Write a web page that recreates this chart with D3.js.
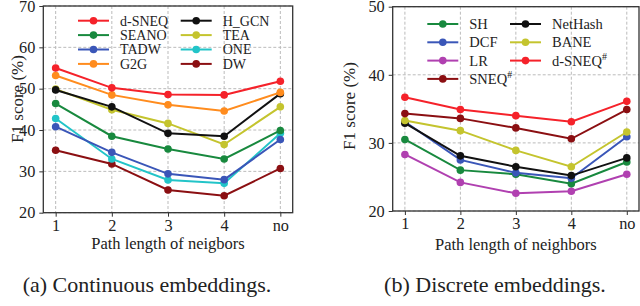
<!DOCTYPE html>
<html><head><meta charset="utf-8">
<script src="https://cdn.jsdelivr.net/npm/d3@7"></script>
<style>body{margin:0;background:#fff}svg{display:block}text{font-family:"Times New Roman","Liberation Serif",Times,"DejaVu Serif",serif;fill:#222}</style>
</head><body>
<svg id="c" width="640" height="306"></svg>
<script>
const categories = ["1","2","3","4","no"];

// Panel (a): continuous embeddings
const contNames = ["d-SNEQ","SEANO","TADW","G2G","H_GCN","TEA","ONE","DW"];
const contColors = ["#f5222a","#18893e","#3a56b8","#ff8c1e","#111111","#c4c42e","#22c4c8","#8b0f12"];
const dSNEQ  = [55.0, 50.2, 48.6, 48.5, 51.8];
const SEANO  = [46.4, 38.5, 35.4, 33.0, 39.9];
const TADW   = [40.8, 34.6, 29.4, 28.0, 37.7];
const G2G    = [53.2, 48.5, 46.1, 44.6, 49.1];
const H_GCN  = [49.7, 45.6, 39.2, 38.5, 48.8];
const TEA    = [49.9, 44.9, 41.6, 36.5, 45.6];
const ONE    = [42.8, 33.0, 27.9, 27.1, 39.2];
const DW     = [35.1, 31.8, 25.5, 24.1, 30.7];
const contTicks = [20,30,40,50,60,70];

// Panel (b): discrete embeddings
const discNames = ["SH","DCF","LR","SNEQ#","NetHash","BANE","d-SNEQ#"];
const discColors = ["#18893e","#3a56b8","#b040b0","#8b0f12","#111111","#c4c42e","#f5222a"];
const SH      = [30.5, 26.0, 25.4, 24.0, 27.2];
const DCF     = [33.1, 27.5, 25.6, 24.8, 30.9];
const LR      = [28.3, 24.2, 22.6, 22.9, 25.4];
const SNEQh   = [34.3, 33.6, 32.2, 30.6, 34.9];
const NetHash = [32.9, 28.1, 26.5, 25.2, 27.8];
const BANE    = [33.3, 31.8, 28.9, 26.5, 31.6];
const dSNEQh  = [36.7, 34.9, 34.0, 33.1, 36.1];
const discTicks = [20,30,40,50];

const FONT = '"Times New Roman","Liberation Serif",Times,"DejaVu Serif",serif';
const svg = d3.select("#c");

function panel(cfg){
  const {left,right,top,bottom,domain,ticks,series,names,colors,order,xlabel,xlabY,caption,capX,legend,ylabX,ylabY} = cfg;
  const g = svg.append("g");
  const x = d3.scalePoint().domain(categories).range([left,right]).padding(0.22);
  const y = d3.scaleLinear().domain(domain).range([bottom,top]);
  // grid
  g.append("g").selectAll("line.h").data(ticks).join("line")
    .attr("x1",left).attr("x2",right).attr("y1",d=>y(d)).attr("y2",d=>y(d))
    .attr("stroke","#bbb").attr("stroke-width",1).attr("stroke-dasharray","3,2");
  g.append("g").selectAll("line.v").data(categories).join("line")
    .attr("x1",d=>x(d)).attr("x2",d=>x(d)).attr("y1",top).attr("y2",bottom)
    .attr("stroke","#bbb").attr("stroke-width",1).attr("stroke-dasharray","3,2");
  // axes
  const ax = g.append("g").attr("transform",`translate(0,${bottom})`)
    .call(d3.axisBottom(x).tickSize(4).tickPadding(2.5));
  const ay = g.append("g").attr("transform",`translate(${left},0)`)
    .call(d3.axisLeft(y).tickValues(ticks).tickSize(4).tickPadding(4));
  [ax,ay].forEach(a=>{a.attr("font-family",FONT).attr("font-size",16.3);
    a.select(".domain").remove();a.selectAll("line").attr("stroke","#333");
    a.selectAll("text").attr("fill","#222");});
  g.append("rect").attr("x",left).attr("y",top).attr("width",right-left).attr("height",bottom-top)
    .attr("fill","none").attr("stroke","#333").attr("stroke-width",1.3);
  // lines
  const line = d3.line().x((d,i)=>x(categories[i])).y(d=>y(d));
  order.forEach(i=>{
    const s = series[i];
    g.append("path").datum(s).attr("d",line).attr("fill","none")
      .attr("stroke",colors[i]).attr("stroke-width",2);
    g.append("g").selectAll("circle").data(s).join("circle")
      .attr("cx",(d,j)=>x(categories[j])).attr("cy",d=>y(d)).attr("r",3.8).attr("fill",colors[i]);
  });
  // legend
  names.forEach((n,i)=>{
    const col = Math.floor(i/legend.perCol), row = i%legend.perCol;
    const lx = legend.x[col], ly = legend.y + row*legend.dy;
    g.append("line").attr("x1",lx).attr("x2",lx+31).attr("y1",ly).attr("y2",ly)
      .attr("stroke",colors[i]).attr("stroke-width",2);
    g.append("circle").attr("cx",lx+15.5).attr("cy",ly).attr("r",3.8).attr("fill",colors[i]);
    const t = g.append("text").attr("x",lx+legend.tx).attr("y",ly).attr("dy","0.35em").attr("font-size",legend.fs);
    if(n.endsWith("#")){
      t.append("tspan").text(n.slice(0,-1));
      t.append("tspan").text("#").attr("font-size",10).attr("dy","-0.55em");
    } else t.text(n);
  });
  g.append("text").attr("x",(left+right)/2).attr("y",xlabY).attr("text-anchor","middle")
    .attr("font-size",16.5).text(xlabel);
  g.append("text").attr("transform",`translate(${ylabX},${ylabY}) rotate(-90)`)
    .attr("text-anchor","middle").attr("dy","0.35em").attr("font-size",17).text("F1 score (%)");
  g.append("text").attr("x",capX).attr("y",292).attr("text-anchor","middle")
    .attr("font-size",22).text(caption);
}

panel({left:43.3,right:292.7,top:6,bottom:212.7,domain:[20,70],ticks:contTicks,
  series:[dSNEQ,SEANO,TADW,G2G,H_GCN,TEA,ONE,DW],names:contNames,colors:contColors,
  order:[7,6,2,1,5,4,3,0],xlabel:"Path length of neigbors",xlabY:249,caption:"(a) Continuous embeddings.",capX:147,
  legend:{x:[78,180.7],y:20.7,dy:14.4,perCol:4,tx:42,fs:14},ylabX:17,ylabY:99});

panel({left:392.7,right:639,top:6.7,bottom:211,domain:[20,50],ticks:discTicks,
  series:[SH,DCF,LR,SNEQh,NetHash,BANE,dSNEQh],names:discNames,colors:discColors,
  order:[2,0,1,4,5,3,6],xlabel:"Path length of neighbors",xlabY:250,caption:"(b) Discrete embeddings.",capX:495,
  legend:{x:[427.3,510],y:24,dy:18.3,perCol:4,tx:42,fs:14.5},ylabX:349,ylabY:106});
</script>
</body></html>
